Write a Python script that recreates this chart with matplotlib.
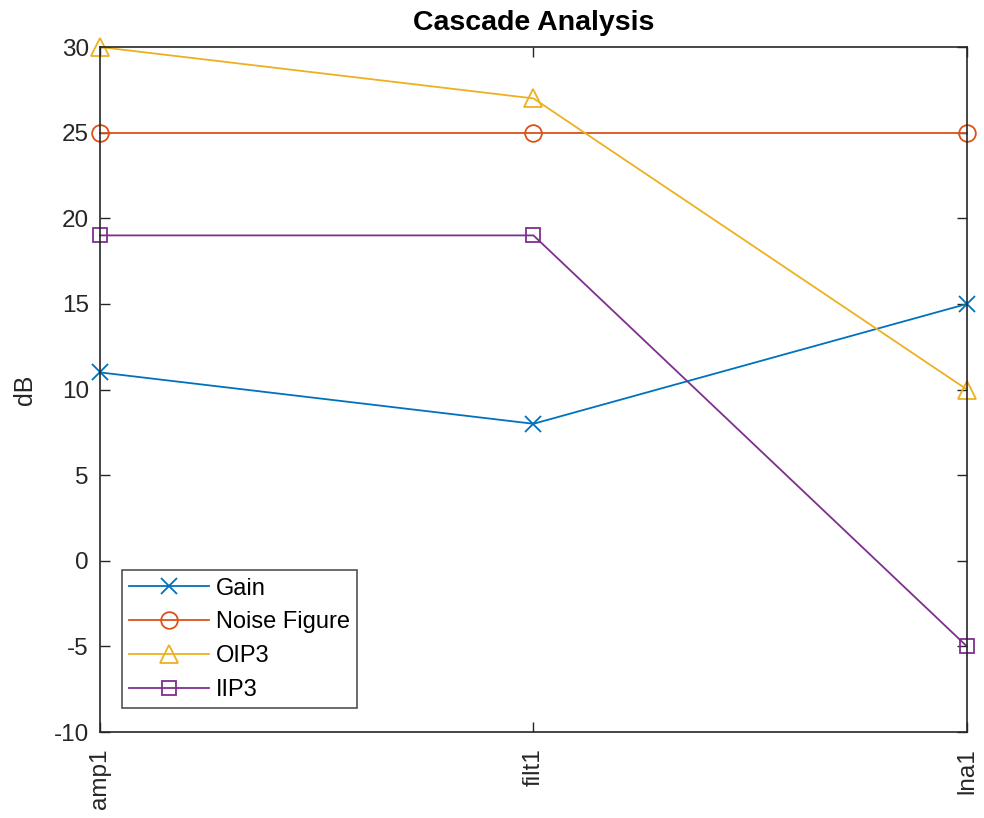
import matplotlib
matplotlib.use("Agg")
import matplotlib.pyplot as plt

plt.rcParams['font.family'] = ['Liberation Sans', 'DejaVu Sans']
plt.rcParams['axes.unicode_minus'] = False

stages = ["amp1", "filt1", "lna1"]
gain = [11, 8, 15]
noise_figure = [25, 25, 25]
oip3 = [30, 27, 10]
iip3 = [19, 19, -5]

colors = ["#0072BD", "#D95319", "#EDB120", "#7E2F8E"]

fig = plt.figure(figsize=(9.84, 8.18), dpi=100)
ax = fig.add_axes([0.1016, 0.1051, 0.8811, 0.8374])

x = list(range(len(stages)))
ms = 12
lw = 1.3
ax.plot(x, gain, color=colors[0], marker="x", ms=ms, lw=lw, mew=lw, label="Gain", clip_on=False)
ax.plot(x, noise_figure, color=colors[1], marker="o", ms=ms, lw=lw, mew=lw, mfc="none", label="Noise Figure", clip_on=False)
ax.plot(x, oip3, color=colors[2], marker="^", ms=ms+1.5, lw=lw, mew=lw, mfc="none", label="OIP3", clip_on=False)
ax.plot(x, iip3, color=colors[3], marker="s", ms=ms-2, lw=lw, mew=lw, mfc="none", label="IIP3", clip_on=False)

ax.set_xlim(0, len(stages) - 1)
ax.set_ylim(-10, 30)
ax.set_yticks(range(-10, 31, 5))
ax.set_xticks(x)
ax.set_xticklabels(stages, rotation=90, va="top", ha="center")

for s in ax.spines.values():
    s.set_color("#262626")
    s.set_linewidth(1.2)
ax.tick_params(direction="in", top=True, right=True, length=7, width=1.0,
               colors="#262626", labelsize=17.5, labelcolor="#262626")
ax.tick_params(axis="y", pad=8)
ax.tick_params(axis="x", pad=12)

ax.set_ylabel("dB", fontsize=18, color="#262626", labelpad=12)
ax.set_title("Cascade Analysis", fontsize=20.5, fontweight="bold", color="black", pad=12)

leg = ax.legend(loc="lower left", bbox_to_anchor=(0.025, 0.035), fontsize=17, frameon=True,
                fancybox=False, edgecolor="#262626", handlelength=3.4, borderpad=0.3,
                labelspacing=0.5, handletextpad=0.3, borderaxespad=0)
leg.get_frame().set_linewidth(1.2)

fig.savefig("out.png", dpi=100)
